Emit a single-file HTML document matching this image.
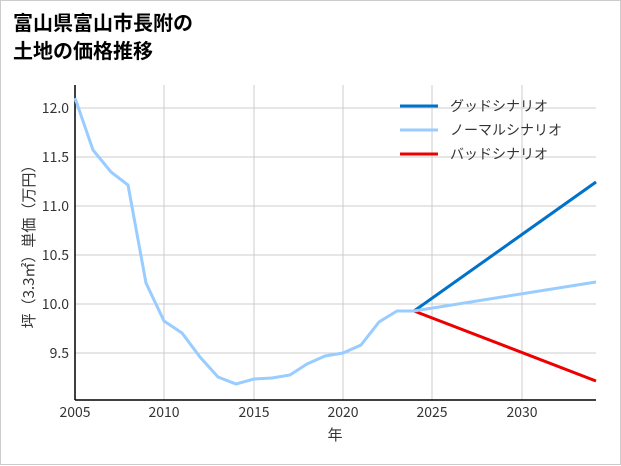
<!DOCTYPE html>
<html><head><meta charset="utf-8"><style>
html,body{margin:0;padding:0;background:#fff}
.wrap{position:relative;width:619px;height:463px;border:1px solid #ccc;}
svg{position:absolute;left:0;top:0}
text{font-family:"Noto Sans CJK JP",sans-serif;}
</style></head><body><div class="wrap">
<svg width="621" height="465" viewBox="1 1 621 465" xmlns="http://www.w3.org/2000/svg">
<text x="13" y="30" font-size="20" font-weight="bold" fill="#000">富山県富山市長附の</text>
<text x="13" y="58" font-size="20" font-weight="bold" fill="#000">土地の価格推移</text>
<g stroke="#ccc" stroke-width="1">
<line x1="164" y1="85" x2="164" y2="400"/><line x1="254" y1="85" x2="254" y2="400"/>
<line x1="343" y1="85" x2="343" y2="400"/><line x1="432" y1="85" x2="432" y2="400"/>
<line x1="522" y1="85" x2="522" y2="400"/>
<line x1="75" y1="108" x2="596" y2="108"/><line x1="75" y1="157" x2="596" y2="157"/>
<line x1="75" y1="206" x2="596" y2="206"/><line x1="75" y1="255" x2="596" y2="255"/>
<line x1="75" y1="304" x2="596" y2="304"/><line x1="75" y1="353" x2="596" y2="353"/>
</g>
<line x1="75" y1="85" x2="75" y2="400" stroke="#000" stroke-width="1.5"/>
<line x1="75" y1="400" x2="596" y2="400" stroke="#000" stroke-width="1.5"/>
<g font-size="14" fill="#333" text-anchor="end">
<text x="69" y="113">12.0</text><text x="69" y="162">11.5</text><text x="69" y="211">11.0</text>
<text x="69" y="260">10.5</text><text x="69" y="309">10.0</text><text x="69" y="358">9.5</text>
</g>
<g font-size="14" fill="#333" text-anchor="middle">
<text x="75" y="417">2005</text><text x="164" y="417">2010</text><text x="254" y="417">2015</text>
<text x="343" y="417">2020</text><text x="432" y="417">2025</text><text x="522" y="417">2030</text>
<text x="335" y="440" font-size="15">年</text>
</g>
<text transform="translate(34,243) rotate(-90)" font-size="15" fill="#333" text-anchor="middle">坪（3.3㎡）単価（万円）</text>
<polyline fill="none" stroke="#0072c9" stroke-width="3" points="414,311 596,182"/>
<polyline fill="none" stroke="#e00" stroke-width="3" points="414,311 596,381"/>
<polyline fill="none" stroke="#99ccff" stroke-width="3" points="75,98 93,150 111,172 128,185 146,283 164,321 182,333 200,357 218,377 236,384 254,379 272,378 290,375 307,364 325,356 343,353 361,345 379,322 397,311 414,311 596,282"/>
<g font-size="14" fill="#333">
<line x1="400" y1="106" x2="438" y2="106" stroke="#0072c9" stroke-width="3"/><text x="450" y="111">グッドシナリオ</text>
<line x1="400" y1="130" x2="438" y2="130" stroke="#99ccff" stroke-width="3"/><text x="450" y="135">ノーマルシナリオ</text>
<line x1="400" y1="154" x2="438" y2="154" stroke="#e00" stroke-width="3"/><text x="450" y="159">バッドシナリオ</text>
</g>
</svg></div></body></html>
